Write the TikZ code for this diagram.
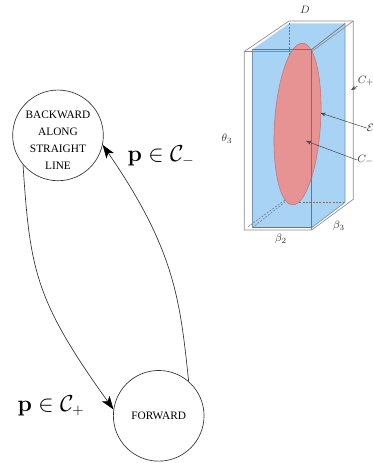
\documentclass[tikz,border=0pt]{standalone}
\usepackage{amsmath,amssymb}
\usepackage[no-math]{fontspec}
\setmainfont{Liberation Serif}
\usetikzlibrary{arrows.meta,shapes.geometric}
\definecolor{boxblue}{HTML}{A9D3F5}
\definecolor{ellred}{HTML}{E89393}
\begin{document}
\begin{tikzpicture}[x=0.75pt,y=-0.75pt]
	 \tikzstyle{state}=[circle,draw=black!80,line width=0.5pt,minimum size=68pt,inner sep=-8pt,align=center,font=\fontsize{8.5}{12.9}\selectfont]
	 \tikzstyle{flow} = [draw,line width=0.5pt,black!80,-{Stealth[length=10pt,width=7pt,inset=2.5pt,black]}]
	 \tikzstyle{guard} = [font=\fontsize{16}{18}\selectfont]
	 \tikzstyle{tag} = [inner sep=0pt,font=\fontsize{8}{10}\selectfont,black!80]
	 \tikzstyle{outer edge} = [draw,line width=0.5pt,black!45]
	 \tikzstyle{inner edge} = [draw,line width=0.5pt,black!55]
	 \tikzstyle{hidden edge} = [draw,line width=0.4pt,black!55,dash pattern=on 1.5pt off 1pt]
	 \tikzstyle{pointer} = [draw,line width=0.4pt,black!70,-{Stealth[length=4pt,width=3pt]}]
	 \useasboundingbox (0,0) rectangle (373,463);

	 \node[state] (back) at (58,135.4) {\rule{0pt}{13pt}BACKWARD\\ALONG\\STRAIGHT\\LINE};
	 \node[state] (fwd) at (158.7,415.8) {FORWARD};
	 \node[guard] (cminus) at (161,156) {$\mathbf{p}\in\mathcal{C}_-$};
	 \node[guard] (cplus) at (51,406) {$\mathbf{p}\in\mathcal{C}_+$};

	 \path[flow] (back.220) .. controls (30,270) and (35,300) .. (fwd.172);
	 \path[flow] (fwd.49) .. controls (180,300) and (175,250) .. (back.-12);

	 % outer box
	 \coordinate (a0) at (244.3,51.5);
	 \coordinate (a1) at (311.7,51.5);
	 \coordinate (a2) at (311.7,230);
	 \coordinate (a3) at (244.3,230);
	 \coordinate (a4) at (289,21);
	 \coordinate (a5) at (353.3,21);
	 \coordinate (a6) at (353.3,199.3);
	 % inner box
	 \coordinate (b0) at (252.3,49.5);
	 \coordinate (b1) at (311.7,49.5);
	 \coordinate (b2) at (311.7,227.7);
	 \coordinate (b3) at (252.3,227.7);
	 \coordinate (b4) at (289,23.5);
	 \coordinate (b5) at (345,23.5);
	 \coordinate (b6) at (345,202.3);

	 \fill[boxblue] (b0) -- (b4) -- (b5) -- (b6) -- (b2) -- (b3) -- cycle;
	 \draw[outer edge] (a3) -- (a0) -- (a4) -- (a5) -- (a6) -- (a2) -- (a3) -- cycle;
	 \draw[outer edge] (a0) -- (a1) -- (a2);
	 \draw[outer edge] (a1) -- (a5);
	 \draw[hidden edge] (b4) -- (289,60);
	 \draw[hidden edge] (248,226.7) -- (285,200);
	 \draw[hidden edge] (b3) -- (285,202);
	 \draw[hidden edge] (296,202.3) -- (b6);

	 \node[ellipse,draw=ellred!80!black,fill=ellred,line width=0.4pt,inner sep=0pt,minimum width=34.5pt,minimum height=121.5pt,rotate=-3.7] (ell) at (297.5,124) {};

	 \draw[inner edge] (b0) -- (b1) -- (b2) -- (b3);
	 \draw[inner edge] (b1) -- (b5);
	 \draw[boxblue!70!black,line width=0.5pt] (b5) -- (b6) -- (b2);
	 \draw[boxblue!70!black,line width=0.5pt] (b0) -- (b3);

	 \node[tag] (dlab) at (305,10) {$D$};
	 \node[tag] (th3) at (227,139) {$\theta_3$};
	 \node[tag] (be2) at (281,239) {$\beta_2$};
	 \node[tag] (be3) at (339,226) {$\beta_3$};
	 \node[tag,anchor=west] (cp) at (357.5,81) {$C_+$};
	 \node[tag,anchor=west] (eps) at (366.5,128) {$\mathcal{E}$};
	 \node[tag,anchor=west] (cm) at (357,160) {$C_-$};
	 \coordinate (p1) at (351,90);
	 \coordinate (p2) at (320.5,113);
	 \coordinate (p3) at (306,141);
	 \draw[pointer] (cp.south west) -- (p1);
	 \draw[pointer] (eps.west) -- (p2);
	 \draw[pointer] (cm.west) -- (p3);
\end{tikzpicture}
\end{document}
